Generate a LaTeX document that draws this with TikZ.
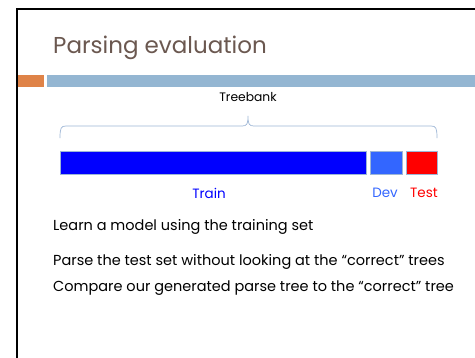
\documentclass[tikz,border=0pt]{standalone}
\usepackage{fontspec}
\setmainfont{Poppins}
\definecolor{titlebrown}{HTML}{6B5850}
\definecolor{accentorange}{HTML}{DF8348}
\definecolor{accentblue}{HTML}{94B6D2}
\definecolor{devblue}{HTML}{3366FF}
\definecolor{barline}{HTML}{9DB6D6}
\begin{document}
\begin{tikzpicture}[x=1pt,y=-1pt,
  bar/.style={draw=barline,line width=0.8pt,minimum height=23pt,inner sep=0pt,anchor=north west},
  lbl/.style={font=\fontsize{13.5}{15}\selectfont,inner sep=0pt},
  bullet/.style={font=\fontsize{14.5}{16}\selectfont,inner sep=0pt,anchor=west}]
  \useasboundingbox (0,0) rectangle (475,357);
  \fill[white] (0,0) rectangle (475,357);
  % slide frame
  \draw[line width=2.5pt,line cap=rect] (475,9) -- (17,9) -- (17,358);
  % title
  \node[anchor=west,inner sep=0pt,text=titlebrown,font=\fontsize{23}{27}\selectfont] (title) at (53,48) {Parsing evaluation};
  % accent rule
  \fill[accentorange] (18,75) rectangle (44,87);
  \fill[accentblue] (47,75) rectangle (475,87);
  % treebank label and brace
  \node[lbl,font=\fontsize{12.3}{14}\selectfont] (treebank) at (248,97) {Treebank};
  \draw[barline,line width=0.7pt] (60,138) .. controls (60,128) and (61,126) .. (66,126) -- (242,126)
    .. controls (247,126) and (248,124) .. (248,116)
    .. controls (248,124) and (249,126) .. (254,126) -- (431,126)
    .. controls (436,126) and (437,128) .. (437,138);
  % data split
  \node[bar,fill=blue,minimum width=306pt] (train) at (60,151) {};
  \node[bar,fill=devblue,minimum width=32pt] (dev) at (370,151) {};
  \node[bar,fill=red,minimum width=31pt] (test) at (406,151) {};
  \node[lbl,text=blue] (trainlbl) at (209,193) {Train};
  \node[lbl,text=devblue] (devlbl) at (385,193) {Dev};
  \node[lbl,text=red] (testlbl) at (424,193) {Test};
  % bullet points
  \node[bullet] (b1) at (53,227) {Learn a model using the training set};
  \node[bullet] (b2) at (53,262) {Parse the test set without looking at the “correct” trees};
  \node[bullet] (b3) at (53,288) {Compare our generated parse tree to the “correct” tree};
\end{tikzpicture}
\end{document}
